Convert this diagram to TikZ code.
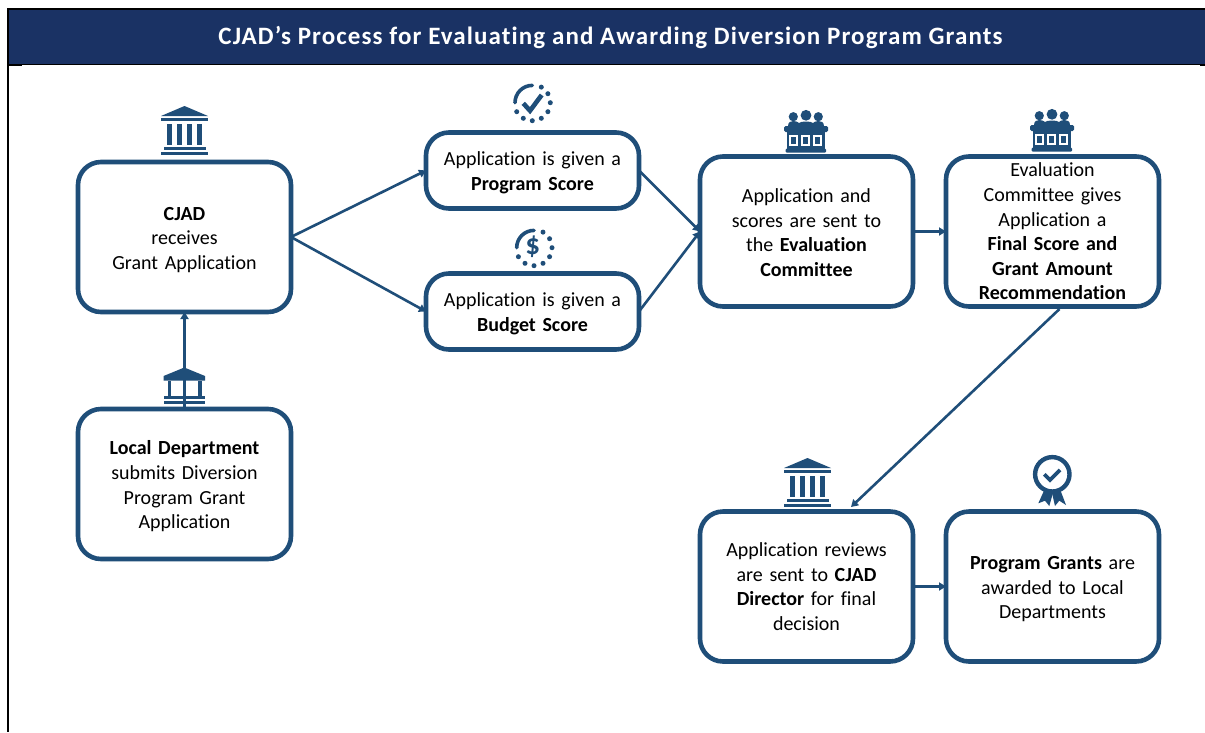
\documentclass[tikz,border=0pt]{standalone}
\usepackage{fontspec}
\setmainfont[Ligatures=NoCommon]{Carlito}
\newfontfamily\titlefont[LetterSpace=4.4,Ligatures=NoCommon]{Carlito}
\usetikzlibrary{arrows.meta}
\definecolor{boxblue}{HTML}{1F4E79}
\definecolor{headblue}{HTML}{1A3264}
\newcommand{\lowertext}[1]{\rule{0pt}{#1}}
\tikzset{
  x=1pt,y=-1pt,
  flowbox/.style={draw=boxblue,line width=4.6pt,rounded corners=23pt,fill=white,outer sep=0pt,inner sep=0pt,
    minimum width=213pt,minimum height=150pt,text width=205pt,align=center,
    font=\fontsize{20}{24.6}\selectfont,text=black},
  shortbox/.style={flowbox,minimum height=76pt},
  flowline/.style={draw=boxblue,line width=2.6pt},
  flowarrow/.style={flowline,-{Triangle[length=7pt,width=8pt]}},
  bankicon/.pic={
    \fill[boxblue] (0,-25) -- (23.5,-15) -- (-23.5,-15) -- cycle;
    \fill[boxblue] (-23.5,-13.5) rectangle (23.5,-10.5);
    \foreach \c in {-15,-5,5,15}{\fill[boxblue] (\c-2.7,-7.5) rectangle (\c+2.7,13.5);}
    \fill[boxblue] (-21,15.5) rectangle (21,19);
    \fill[boxblue] (-23.5,21) rectangle (23.5,24.3);
  },
  juryicon/.pic={
    \fill[boxblue] (-12.7,-14.3) circle[radius=4.6];
    \fill[boxblue] (0,-15.7) circle[radius=5.4];
    \fill[boxblue] (12.3,-14.3) circle[radius=4.6];
    \fill[boxblue] (-18,-5) .. controls (-18,-9) and (-15,-10) .. (-12.7,-10) .. controls (-10,-10) and (-8,-9) .. (-7,-8) .. controls (-5,-10) and (5,-10) .. (7,-8) .. controls (8,-9) and (10,-10) .. (12.3,-10) .. controls (15,-10) and (18,-9) .. (18,-5) -- cycle;
    \fill[boxblue,rounded corners=1.5pt] (-22,-5) rectangle (22,1);
    \fill[boxblue] (-18.7,1) rectangle (19,18);
    \foreach \c in {-12.7,-0.4,11.7}{
      \fill[white] (\c-4.5,4) rectangle (\c+4.5,15);
      \fill[boxblue] (\c-2.6,6) rectangle (\c+2.6,13);
    }
    \fill[boxblue,rounded corners=1pt] (-20.3,17.7) rectangle (20,21.7);
  },
}
\begin{document}
\begin{tikzpicture}
\useasboundingbox (0,0) rectangle (1205,732);
\fill[white] (0,0) rectangle (1205,732);
% header
\fill[headblue] (9,9) rectangle (1205,64);
\node[draw=none,inner sep=0pt,outer sep=0pt,text=white,
  font=\titlefont\bfseries\fontsize{25}{28}\selectfont] (title) at (610.5,37.5) {CJAD’s Process for Evaluating and Awarding Diversion Program Grants};
\fill[black] (7,8) rectangle (1205,9.7);
\fill[black] (7,8) rectangle (9.3,732);
\fill[black] (9,63.8) rectangle (1205,64.8);
\fill[black] (9,64) rectangle (22,66);
\fill[black] (1200,64) rectangle (1205,66);

% boxes
\node[flowbox] (cjad) at (184.5,237) {\lowertext{19pt}\textbf{CJAD}\\receives\\Grant Application};
\node[flowbox] (local) at (184.5,484) {\lowertext{19pt}\textbf{Local Department}\\submits Diversion\\Program Grant\\Application};
\node[shortbox] (prog) at (532.5,170.5) {\lowertext{18.5pt}Application is given a\\\textbf{Program Score}};
\node[shortbox] (budg) at (532.5,311.5) {\lowertext{18.5pt}Application is given a\\\textbf{Budget Score}};
\node[flowbox] (eval) at (806.5,231.5) {\lowertext{16.5pt}Application and\\scores are sent to\\the \textbf{Evaluation}\\\textbf{Committee}};
\node[flowbox] (final) at (1052.5,231.5) {Evaluation\\Committee gives\\Application a\\\textbf{Final Score and}\\\textbf{Grant Amount}\\\textbf{Recommendation}};
\node[flowbox] (dir) at (806.5,586.5) {Application reviews\\are sent to \textbf{CJAD}\\\textbf{Director} for final\\decision};
\node[flowbox] (award) at (1052.5,586.5) {\lowertext{19pt}\textbf{Program Grants} are\\awarded to Local\\Departments};

% connectors
\coordinate (fromfinal) at (1059.5,309);
\coordinate (todir) at (851,507);
\draw[flowarrow] (local.north) -- (cjad.south);
\draw[flowarrow] (cjad.east) -- (prog.west);
\draw[flowarrow] (cjad.east) -- (budg.west);
\draw[flowarrow] (prog.east) -- (eval.west);
\draw[flowarrow] (budg.east) -- (eval.west);
\draw[flowarrow] (eval.east) -- (final.west);
\draw[flowarrow] (fromfinal) -- (todir);
\draw[flowarrow] (dir.east) -- (award.west);

% bank icons
\pic at (184.5,131) {bankicon};
\pic at (807.5,483) {bankicon};
% local department icon
\begin{scope}[shift={(184.3,386)}]
  \fill[boxblue] (0,-18.5) -- (20.7,-10) -- (20.7,-5.3) -- (-20.7,-5.3) -- (-20.7,-10) -- cycle;
  \foreach \c in {-15,0,15.8}{\fill[boxblue] (\c-1.7,-5.5) rectangle (\c+1.7,10.5);}
  \fill[boxblue] (-20.7,10) rectangle (20.7,12.8);
  \fill[boxblue] (-20.7,15) rectangle (20.7,18.3);
\end{scope}
% score check icon
\begin{scope}[shift={(532.3,102.7)}]
  \draw[boxblue,line width=3.6pt,line cap=round] (0,-17.3) arc[start angle=270,end angle=180,radius=17.3];
  \foreach \a in {60,30,0,-30,-60,-90,-120,-150}{\fill[boxblue] (\a:18 and -18) circle[radius=2.5];}
  \draw[boxblue,line width=4.6pt] (-9,0.6) -- (-2.3,8) -- (9.4,-7.7);
\end{scope}
% score dollar icon
\begin{scope}[shift={(534,247.7)}]
  \draw[boxblue,line width=3.6pt,line cap=round] (0,-17.3) arc[start angle=270,end angle=180,radius=17.3];
  \foreach \a in {60,30,0,-30,-60,-90,-120,-150}{\fill[boxblue] (\a:18 and -18) circle[radius=2.5];}
  \node[text=boxblue,inner sep=0pt,font=\bfseries\fontsize{29}{29}\selectfont] (dollar) at (-1.3,-1) {\$};
\end{scope}
% jury icons
\pic at (806,131) {juryicon};
\pic at (1052,130) {juryicon};
% award icon
\begin{scope}[shift={(1052.3,474.3)}]
  \fill[boxblue] (-8,15.7) -- (-14,29) -- (-7.3,26.4) -- (-3,31.7) -- (1,17.4) -- cycle;
  \fill[boxblue] (8,15.7) -- (13.7,30.7) -- (7,26.4) -- (2.7,31.7) -- (-0.6,17.4) -- cycle;
  \draw[boxblue,line width=4.4pt,fill=white] (0,0) circle[radius=17.2];
  \draw[boxblue,line width=3.8pt] (-8,0) -- (-2.3,5.7) -- (7.7,-4.3);
\end{scope}
\end{tikzpicture}
\end{document}
